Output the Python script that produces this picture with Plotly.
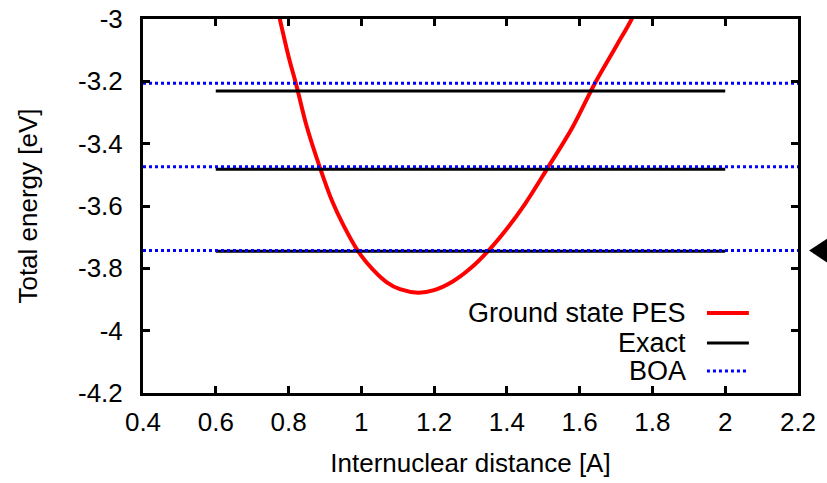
import plotly.graph_objects as go

# PES curve points
pes_x = [0.75, 0.776, 0.80, 0.822, 0.85, 0.886, 0.92, 0.95, 0.991, 1.03, 1.07, 1.106,
         1.156, 1.20, 1.25, 1.30, 1.348, 1.40, 1.45, 1.513, 1.58, 1.642, 1.70, 1.743, 1.78]
pes_y = [-2.86, -3.0, -3.12, -3.215, -3.345, -3.476, -3.585, -3.66, -3.745, -3.802, -3.845, -3.867,
         -3.878, -3.870, -3.843, -3.800, -3.745, -3.673, -3.593, -3.476, -3.348, -3.206, -3.088, -3.0, -2.905]

exact_levels = [-3.745, -3.482, -3.231]
exact_xrange = [0.6, 2.0]
boa_levels = [-3.743, -3.474, -3.206]
boa_xrange = [0.4, 2.2]

x_ticks = [0.4, 0.6, 0.8, 1.0, 1.2, 1.4, 1.6, 1.8, 2.0, 2.2]
x_labels = ["0.4", "0.6", "0.8", "1", "1.2", "1.4", "1.6", "1.8", "2", "2.2"]
y_ticks = [-3.0, -3.2, -3.4, -3.6, -3.8, -4.0, -4.2]
y_labels = ["-3", "-3.2", "-3.4", "-3.6", "-3.8", "-4", "-4.2"]

legend_names = ["Ground state PES", "Exact", "BOA"]

RED = "#ff0000"
BLACK = "#000000"
BLUE = "#0000ff"
FONT = "Liberation Sans, Arial, sans-serif"
FS = 26

fig = go.Figure()
fig.add_trace(go.Scatter(x=pes_x, y=pes_y, mode="lines", line=dict(color=RED, width=4, shape="spline"),
                         showlegend=False))
for lv in exact_levels:
    fig.add_trace(go.Scatter(x=exact_xrange, y=[lv, lv], mode="lines",
                             line=dict(color=BLACK, width=3), showlegend=False))
for lv in boa_levels:
    fig.add_trace(go.Scatter(x=boa_xrange, y=[lv, lv], mode="lines",
                             line=dict(color=BLUE, width=3, dash="dot"), showlegend=False))

# manual gnuplot-style legend (text left, sample right)
leg_rows = [0.214, 0.134, 0.059]
leg_styles = [dict(color=RED, width=4), dict(color=BLACK, width=3), dict(color=BLUE, width=3, dash="dot")]
for name, yy, st in zip(legend_names, leg_rows, leg_styles):
    fig.add_annotation(x=0.832, y=yy, xref="paper", yref="paper", text=name, showarrow=False,
                       xanchor="right", yanchor="middle", font=dict(size=FS + 1, color="black", family=FONT))
    fig.add_shape(type="line", x0=0.861, x1=0.925, y0=yy, y1=yy, xref="paper", yref="paper", line=st)

# triangle marker on the right pointing at ground level
yl = boa_levels[0]
fig.add_shape(type="path", xref="paper", yref="y",
              path=f"M 1.017,{yl} L 1.06,{yl + 0.06} L 1.06,{yl - 0.06} Z",
              fillcolor="black", line=dict(width=0))

axis_common = dict(showline=True, linecolor="black", linewidth=3, mirror="ticks",
                   ticks="inside", ticklen=7, tickwidth=3, tickcolor="black",
                   showgrid=False, zeroline=False, automargin=False,
                   tickfont=dict(size=FS, color="black", family=FONT))

fig.update_xaxes(range=[0.4, 2.2], tickvals=x_ticks, ticktext=x_labels, ticklabelstandoff=4,
                 title=dict(text="Internuclear distance [A]", font=dict(size=FS, color="black", family=FONT),
                            standoff=18),
                 **axis_common)
fig.update_yaxes(range=[-4.2, -3.0], tickvals=y_ticks, ticktext=y_labels, ticklabelstandoff=12,
                 title=dict(text="Total energy [eV]", font=dict(size=FS, color="black", family=FONT),
                            standoff=33),
                 **axis_common)

fig.update_layout(width=827, height=483, margin=dict(l=143, r=29, t=19, b=90),
                  plot_bgcolor="white", paper_bgcolor="white", showlegend=False)

fig.write_html("out.html")
